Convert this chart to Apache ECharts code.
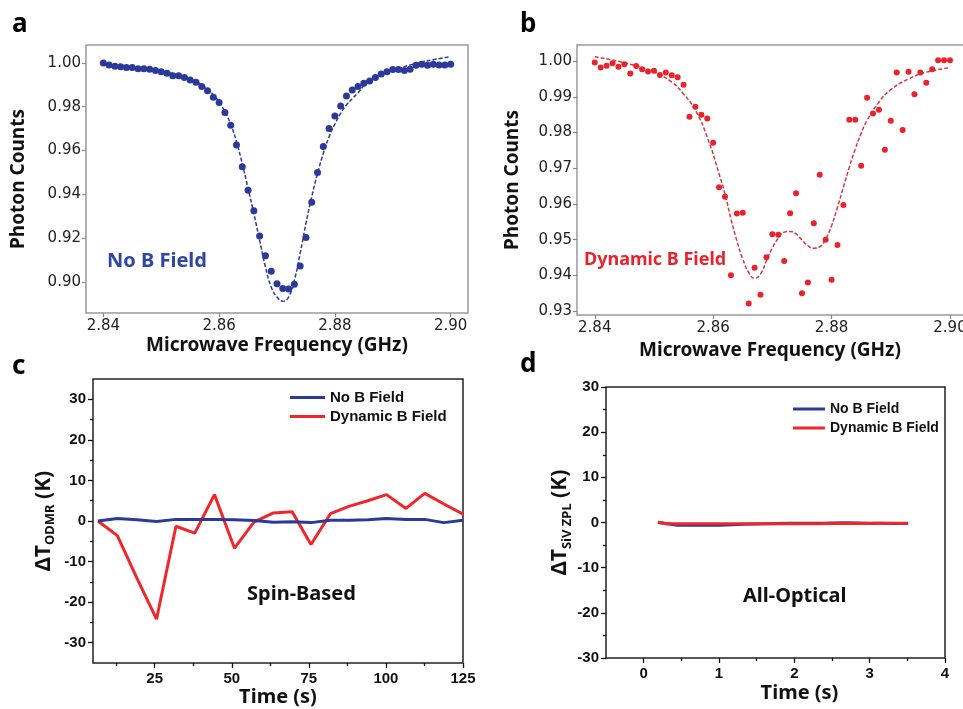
<!DOCTYPE html>
<html>
<head>
<meta charset="utf-8">
<title>ODMR vs all-optical</title>
<script src="https://cdn.jsdelivr.net/npm/echarts@6.0.0/dist/echarts.min.js"></script>
<style>
  html, body { margin: 0; padding: 0; background: #fff; }
</style>
</head>
<body>
<div id="main" style="width: 963px;height:709px;"></div>
<script type="text/javascript">
// panel a / b : microwave sweep, 1 MHz steps
var freqs = [2.840, 2.841, 2.842, 2.843, 2.844, 2.845, 2.846, 2.847, 2.848, 2.849,
             2.850, 2.851, 2.852, 2.853, 2.854, 2.855, 2.856, 2.857, 2.858, 2.859,
             2.860, 2.861, 2.862, 2.863, 2.864, 2.865, 2.866, 2.867, 2.868, 2.869,
             2.870, 2.871, 2.872, 2.873, 2.874, 2.875, 2.876, 2.877, 2.878, 2.879,
             2.880, 2.881, 2.882, 2.883, 2.884, 2.885, 2.886, 2.887, 2.888, 2.889,
             2.890, 2.891, 2.892, 2.893, 2.894, 2.895, 2.896, 2.897, 2.898, 2.899, 2.900];
var countsNoB = [1.0000, 0.9991, 0.9985, 0.9983, 0.9979, 0.9979, 0.9974, 0.9973, 0.9971, 0.9966,
                 0.9960, 0.9953, 0.9941, 0.9941, 0.9933, 0.9922, 0.9912, 0.9892, 0.9873, 0.9843,
                 0.9819, 0.9774, 0.9715, 0.9625, 0.9526, 0.9419, 0.9325, 0.9210, 0.9120, 0.9049,
                 0.8992, 0.8970, 0.8968, 0.8989, 0.9073, 0.9203, 0.9364, 0.9500, 0.9619, 0.9701,
                 0.9758, 0.9803, 0.9849, 0.9877, 0.9893, 0.9907, 0.9918, 0.9933, 0.9950, 0.9960,
                 0.9970, 0.9970, 0.9966, 0.9971, 0.9989, 0.9994, 0.9989, 0.9994, 0.9991, 0.9991, 0.9994];
var countsDyn = [0.9996, 0.9982, 0.9987, 0.9994, 0.9984, 0.9991, 0.9965, 0.9986, 0.9977, 0.9971,
                 0.9973, 0.9961, 0.9968, 0.9960, 0.9955, 0.9934, 0.9844, 0.9872, 0.9850, 0.9839,
                 0.9771, 0.9647, 0.9620, 0.9400, 0.9573, 0.9575, 0.9321, 0.9421, 0.9346, 0.9451,
                 0.9515, 0.9514, 0.9440, 0.9574, 0.9630, 0.9350, 0.9380, 0.9546, 0.9682, 0.9500,
                 0.9388, 0.9485, 0.9597, 0.9836, 0.9836, 0.9707, 0.9897, 0.9853, 0.9864, 0.9752,
                 0.9833, 0.9968, 0.9807, 0.9970, 0.9907, 0.9968, 0.9939, 0.9977, 1.0002, 1.0002, 1.0002];

// fitted curves (dashed)
var fitFreqNoB = [2.840, 2.845, 2.850, 2.853, 2.855, 2.857, 2.859, 2.860, 2.861, 2.862, 2.863, 2.864,
                  2.865, 2.866, 2.867, 2.868, 2.869, 2.870, 2.871, 2.872, 2.873, 2.874, 2.875, 2.876,
                  2.877, 2.878, 2.879, 2.880, 2.881, 2.882, 2.884, 2.886, 2.888, 2.890, 2.894, 2.897, 2.900];
var fitNoB = [0.9990, 0.9978, 0.9962, 0.9945, 0.9928, 0.9900, 0.9855, 0.9822, 0.9777, 0.9721, 0.9640, 0.9540,
              0.9427, 0.9312, 0.9190, 0.9069, 0.8977, 0.8931, 0.8912, 0.8931, 0.9008, 0.9130, 0.9267, 0.9389,
              0.9495, 0.9587, 0.9663, 0.9721, 0.9770, 0.9808, 0.9864, 0.9922, 0.9945, 0.9965, 0.9998, 1.0015, 1.0029];
var fitFreqDyn = [2.840, 2.845, 2.850, 2.853, 2.855, 2.857, 2.859, 2.861, 2.862, 2.863, 2.864, 2.865,
                  2.866, 2.867, 2.868, 2.869, 2.870, 2.871, 2.872, 2.873, 2.874, 2.875, 2.876, 2.877,
                  2.878, 2.879, 2.880, 2.881, 2.882, 2.883, 2.884, 2.885, 2.886, 2.888, 2.890, 2.893, 2.896, 2.900];
var fitDyn = [1.0012, 0.9995, 0.9969, 0.9941, 0.9908, 0.9862, 0.9787, 0.9684, 0.9628, 0.9558, 0.9497, 0.9446,
              0.9408, 0.9392, 0.9404, 0.9441, 0.9477, 0.9504, 0.9521, 0.9523, 0.9516, 0.9499, 0.9483, 0.9476,
              0.9480, 0.9502, 0.9539, 0.9591, 0.9647, 0.9703, 0.9754, 0.9798, 0.9834, 0.9885, 0.9920, 0.9950, 0.9969, 0.9981];

// panel c : spin based temperature
var timeSpin = [6.6, 12.9, 19.2, 25.6, 31.9, 38.0, 44.4, 50.9, 57.2, 63.5,
                69.6, 75.7, 82.0, 88.0, 94.1, 100.2, 106.5, 112.6, 118.8, 125.0];
var spinNoB = [0, 0.6, 0.3, -0.1, 0.4, 0.4, 0.4, 0.3, 0.1, -0.3,
               -0.2, -0.4, 0.2, 0.2, 0.3, 0.6, 0.4, 0.4, -0.4, 0.2];
var spinDyn = [0, -3.6, -14.0, -24.2, -1.3, -3.0, 6.5, -6.7, -0.3, 2.0,
               2.3, -5.8, 1.8, 3.6, 5.0, 6.5, 3.1, 6.8, 4.2, 1.7];

// panel d : all optical (SiV ZPL)
var timeOpt = [0.19, 0.36, 0.5, 0.75, 1.0, 1.32, 1.6, 1.94, 2.3, 2.67, 3.0, 3.3, 3.51];
var optNoB = [0.05, -0.4, -0.6, -0.6, -0.6, -0.4, -0.3, -0.15, -0.15, -0.07, -0.15, -0.2, -0.2];
var optDyn = [0.07, -0.3, -0.3, -0.3, -0.3, -0.25, -0.25, -0.25, -0.25, -0.2, -0.2, -0.15, -0.15];

function pairs(xs, ys) {
    return xs.map(function (x, i) { return [x, ys[i]]; });
}

var myChart = echarts.init(document.getElementById('main'));

var plotFont = 'DejaVu Sans';
var titleFont = 'Noto Sans';
var originFont = 'Liberation Sans';
var blue = '#2b3a9a';
var red = '#e8232b';

function mplAxis(extra) {
    var ax = {
        type: 'value',
        axisLine: { show: false, onZero: false },
        splitLine: { show: false },
        nameTextStyle: { color: '#111', fontFamily: titleFont, fontWeight: 'bold', fontSize: 19 },
        nameLocation: 'middle'
    };
    return Object.assign(ax, extra);
}

function originAxis(extra) {
    var ax = {
        type: 'value',
        axisLine: { show: false, onZero: false },
        splitLine: { show: false },
        nameTextStyle: { color: '#111', fontFamily: titleFont, fontWeight: 'bold', fontSize: 20 },
        nameLocation: 'middle'
    };
    return Object.assign(ax, extra);
}

// extra axis: only minor ticks or a frame line, no labels
function bareAxis(extra) {
    return Object.assign({
        type: 'value',
        axisLine: { show: false, onZero: false },
        splitLine: { show: false },
        axisLabel: { show: false },
        axisTick: { show: false }
    }, extra);
}

function mplLabel(vals, margin) {
    return { color: '#222', fontFamily: plotFont, fontSize: 15, margin: margin,
             formatter: function (v) { return v.toFixed(2); }, customValues: vals };
}
function mplTick(vals) {
    return { show: true, length: 4, lineStyle: { color: '#888', width: 1.2 }, customValues: vals };
}
function originLabel(vals, margin) {
    return { color: '#111', fontFamily: originFont, fontWeight: 'bold', fontSize: 15, margin: margin, customValues: vals };
}
function originTick(vals, len) {
    return { show: true, length: len, lineStyle: { color: '#111', width: 1.3 }, customValues: vals };
}

var subRich = {
    m: { fontFamily: titleFont, fontWeight: 'bold', fontSize: 21, lineHeight: 26, color: '#111' },
    s: { fontFamily: titleFont, fontWeight: 'bold', fontSize: 13, lineHeight: 12, verticalAlign: 'bottom', color: '#111' }
};
var grayLine = { show: true, onZero: false, lineStyle: { color: '#999', width: 1.5 } };

option = {
    animation: false,
    backgroundColor: '#fff',
    grid: [
        { left: 86, top: 45, width: 382, height: 268, show: true, borderColor: '#999', borderWidth: 1.5, outerBoundsMode: 'none' },
        { left: 577, top: 45, width: 386, height: 270, outerBoundsMode: 'none' },
        { left: 93, top: 379, width: 370, height: 284, show: true, borderColor: '#222', borderWidth: 1.5, outerBoundsMode: 'none' },
        { left: 606, top: 387, width: 339, height: 271, show: true, borderColor: '#222', borderWidth: 1.5, outerBoundsMode: 'none' }
    ],
    xAxis: [
        mplAxis({ gridIndex: 0, min: 2.837, max: 2.903, name: 'Microwave Frequency (GHz)', nameGap: 23,
            axisLabel: mplLabel([2.84, 2.86, 2.88, 2.90], 6), axisTick: mplTick([2.84, 2.86, 2.88, 2.90]) }),
        mplAxis({ gridIndex: 1, min: 2.837, max: 2.9022, name: 'Microwave Frequency (GHz)', nameGap: 26,
            axisLine: grayLine,
            axisLabel: mplLabel([2.84, 2.86, 2.88, 2.90], 6), axisTick: mplTick([2.84, 2.86, 2.88, 2.90]) }),
        originAxis({ gridIndex: 2, min: 5, max: 125, name: 'Time (s)', nameGap: 24,
            axisLabel: originLabel([25, 50, 75, 100, 125], 8), axisTick: originTick([25, 50, 75, 100, 125], 5) }),
        originAxis({ gridIndex: 3, min: -0.5, max: 4, name: 'Time (s)', nameGap: 25,
            nameTextStyle: { color: '#111', fontFamily: titleFont, fontWeight: 'bold', fontSize: 20, padding: [0, 0, 0, 48] },
            axisLabel: originLabel([0, 1, 2, 3, 4], 8), axisTick: originTick([0, 1, 2, 3, 4], 5) }),
        bareAxis({ gridIndex: 2, min: 5, max: 125, position: 'bottom',
            axisTick: originTick([12.5, 37.5, 62.5, 87.5, 112.5], 3) }),
        bareAxis({ gridIndex: 3, min: -0.5, max: 4, position: 'bottom',
            axisTick: originTick([0.5, 1.5, 2.5, 3.5], 3) }),
        // top frame line of panel b (its right side runs off the page)
        bareAxis({ gridIndex: 1, min: 2.837, max: 2.9022, position: 'top', axisLine: grayLine })
    ],
    yAxis: [
        mplAxis({ gridIndex: 0, min: 0.8858, max: 1.0082, name: 'Photon Counts', nameGap: 58, nameRotate: 90,
            axisLabel: mplLabel([0.90, 0.92, 0.94, 0.96, 0.98, 1.00], 5),
            axisTick: mplTick([0.90, 0.92, 0.94, 0.96, 0.98, 1.00]) }),
        mplAxis({ gridIndex: 1, min: 0.9289, max: 1.0045, name: 'Photon Counts', nameGap: 55, nameRotate: 90,
            axisLine: grayLine,
            axisLabel: mplLabel([0.93, 0.94, 0.95, 0.96, 0.97, 0.98, 0.99, 1.00], 5),
            axisTick: mplTick([0.93, 0.94, 0.95, 0.96, 0.97, 0.98, 0.99, 1.00]) }),
        originAxis({ gridIndex: 2, min: -35, max: 35, nameRotate: 90, nameGap: 36,
            name: '{m|ΔT}{s|ODMR}{m| (K)}', nameTextStyle: { rich: subRich },
            axisLabel: originLabel([-30, -20, -10, 0, 10, 20, 30], 7),
            axisTick: originTick([-30, -20, -10, 0, 10, 20, 30], 5) }),
        originAxis({ gridIndex: 3, min: -30, max: 30, nameRotate: 90, nameGap: 29,
            name: '{m|ΔT}{s|SiV ZPL}{m| (K)}', nameTextStyle: { rich: subRich },
            axisLabel: originLabel([-30, -20, -10, 0, 10, 20, 30], 7),
            axisTick: originTick([-30, -20, -10, 0, 10, 20, 30], 5) }),
        bareAxis({ gridIndex: 2, min: -35, max: 35, position: 'left',
            axisTick: originTick([-25, -15, -5, 5, 15, 25], 3) }),
        bareAxis({ gridIndex: 3, min: -30, max: 30, position: 'left',
            axisTick: originTick([-25, -15, -5, 5, 15, 25], 3) })
    ],
    legend: [
        { left: 290, top: 390, padding: 0, orient: 'vertical', itemWidth: 35, itemHeight: 3, itemGap: 4, icon: 'rect',
          data: ['No B Field', 'Dynamic B Field'],
          textStyle: { fontFamily: originFont, fontWeight: 'bold', fontSize: 15, color: '#111' } },
        { left: 793, top: 402, padding: 0, orient: 'vertical', itemWidth: 32, itemHeight: 3, itemGap: 5, icon: 'rect',
          data: ['No B Field', 'Dynamic B Field'],
          textStyle: { fontFamily: originFont, fontWeight: 'bold', fontSize: 14, color: '#111' } }
    ],
    graphic: [
        { type: 'text', left: 12, top: 12, style: { text: 'a', font: 'bold 26px "Noto Sans"', fill: '#000' } },
        { type: 'text', left: 520, top: 12, style: { text: 'b', font: 'bold 26px "Noto Sans"', fill: '#000' } },
        { type: 'text', left: 12, top: 354, style: { text: 'c', font: 'bold 26px "Noto Sans"', fill: '#000' } },
        { type: 'text', left: 520, top: 352, style: { text: 'd', font: 'bold 26px "Noto Sans"', fill: '#000' } },
        { type: 'text', left: 107, top: 251, style: { text: 'No B Field', font: 'bold 20px "Noto Sans"', fill: '#2f46a3' } },
        { type: 'text', left: 584, top: 251, style: { text: 'Dynamic B Field', font: 'bold 18px "Noto Sans"', fill: '#e8232b' } },
        { type: 'text', left: 247, top: 584, style: { text: 'Spin-Based', font: 'bold 20px "Noto Sans"', fill: '#111' } },
        { type: 'text', left: 743, top: 586, style: { text: 'All-Optical', font: 'bold 20px "Noto Sans"', fill: '#111' } }
    ],
    series: [
        { type: 'line', name: 'fit a', xAxisIndex: 0, yAxisIndex: 0, data: pairs(fitFreqNoB, fitNoB),
          smooth: true, showSymbol: false, lineStyle: { color: blue, width: 1.5, type: [4, 2] }, z: 3 },
        { type: 'scatter', name: 'data a', xAxisIndex: 0, yAxisIndex: 0, data: pairs(freqs, countsNoB),
          symbolSize: 7, itemStyle: { color: blue, opacity: 1 }, z: 4 },
        { type: 'line', name: 'fit b', xAxisIndex: 1, yAxisIndex: 1, data: pairs(fitFreqDyn, fitDyn),
          smooth: true, showSymbol: false, lineStyle: { color: '#d23a40', width: 1.5, type: [4, 2] }, z: 3 },
        { type: 'scatter', name: 'data b', xAxisIndex: 1, yAxisIndex: 1, data: pairs(freqs, countsDyn),
          symbolSize: 6, itemStyle: { color: red, opacity: 1 }, z: 4 },
        { type: 'line', name: 'No B Field', xAxisIndex: 2, yAxisIndex: 2, data: pairs(timeSpin, spinNoB),
          showSymbol: false, color: blue, lineStyle: { color: blue, width: 3 }, z: 4 },
        { type: 'line', name: 'Dynamic B Field', xAxisIndex: 2, yAxisIndex: 2, data: pairs(timeSpin, spinDyn),
          showSymbol: false, color: '#f0262b', lineStyle: { color: '#f0262b', width: 3 }, z: 3 },
        { type: 'line', name: 'No B Field', xAxisIndex: 3, yAxisIndex: 3, data: pairs(timeOpt, optNoB),
          showSymbol: false, smooth: true, color: blue, lineStyle: { color: blue, width: 3 }, z: 3 },
        { type: 'line', name: 'Dynamic B Field', xAxisIndex: 3, yAxisIndex: 3, data: pairs(timeOpt, optDyn),
          showSymbol: false, smooth: true, color: '#f0262b', lineStyle: { color: '#f0262b', width: 3 }, z: 4 }
    ]
};
myChart.setOption(option);
</script>
</body>
</html>
